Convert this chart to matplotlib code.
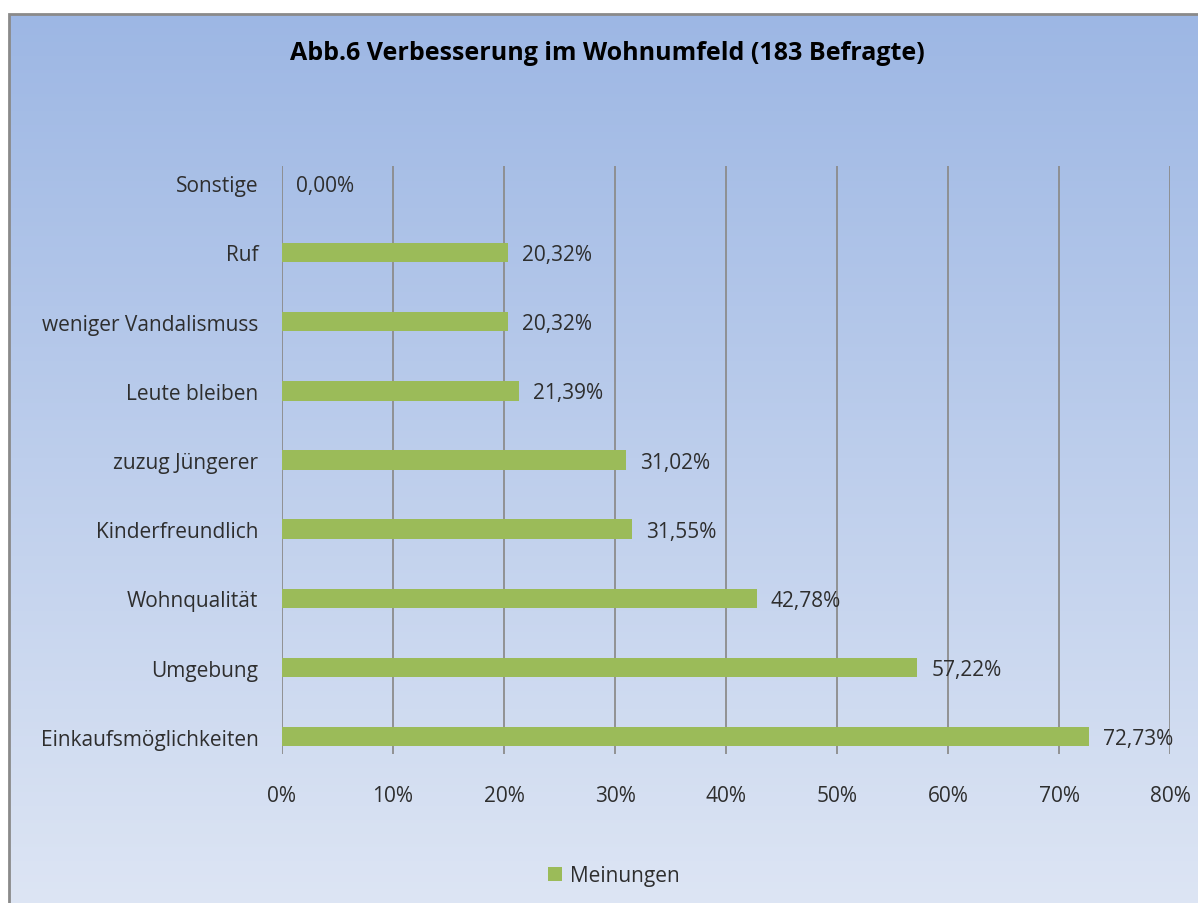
import matplotlib
matplotlib.use("Agg")
import matplotlib.pyplot as plt
import numpy as np
from matplotlib.patches import Rectangle

categories = ["Einkaufsmöglichkeiten", "Umgebung", "Wohnqualität", "Kinderfreundlich",
              "zuzug Jüngerer", "Leute bleiben", "weniger Vandalismuss", "Ruf", "Sonstige"]
values = [72.73, 57.22, 42.78, 31.55, 31.02, 21.39, 20.32, 20.32, 0.00]
xticks = [0, 10, 20, 30, 40, 50, 60, 70, 80]
title = "Abb.6 Verbesserung im Wohnumfeld (183 Befragte)"
series_name = "Meinungen"

plt.rcParams['font.family'] = ['Open Sans', 'DejaVu Sans']
FS = 15
W, H = 1198, 904
fig = plt.figure(figsize=(W / 100, H / 100), dpi=100)
fig.patch.set_facecolor('white')

# gradient background of the chart area
bg = fig.add_axes([9 / W, 0, 1 - 9 / W, (H - 15) / H], zorder=0)
top = np.array([157, 183, 228]) / 255
bot = np.array([221, 229, 244]) / 255
t = np.linspace(0, 1, 256)[:, None]
grad = top[None, :] * (1 - t) + bot[None, :] * t
bg.imshow(grad[:, None, :], aspect='auto', extent=[0, 1, 0, 1])
bg.set_axis_off()
fig.add_artist(Rectangle((9 / W, -0.01), 1.0, (H - 15) / H + 0.01, transform=fig.transFigure,
                         fill=False, edgecolor='#8a8a8a', linewidth=2, zorder=1))

ax = fig.add_axes([282 / W, 1 - 755 / H, 888 / W, 588 / H], zorder=2)
ax.patch.set_alpha(0)
y = np.arange(len(categories))
bars = ax.barh(y, values, height=0.28, color='#9BBB59', label=series_name, zorder=3)
ax.set_xlim(0, 80)
ax.set_ylim(-0.25, len(categories) - 0.75)
ax.set_xticks(xticks)
ax.set_xticklabels([f"{v}%" for v in xticks], fontsize=FS, color='#2e2e2e')
ax.set_yticks(y)
ax.set_yticklabels(categories, fontsize=FS, color='#2e2e2e')
ax.tick_params(axis='both', length=0)
ax.tick_params(axis='x', pad=22)
ax.tick_params(axis='y', pad=17)
ax.grid(axis='x', color='#8c8c8c', linewidth=1.3, zorder=1)
for s in ax.spines.values():
    s.set_visible(False)

for yi, v in zip(y, values):
    ax.annotate(f"{v:.2f}%".replace('.', ','), (v, yi), xytext=(14, -2), textcoords='offset pixels',
                va='center', ha='left', fontsize=FS, color='#2e2e2e', zorder=4)

fig.text(607 / W, 1 - 53 / H, title, ha='center', va='center', fontsize=18,
         fontweight='bold', color='black', zorder=5)

fig.legend(handles=[bars], labels=[series_name], loc='center', bbox_to_anchor=(614 / W, 1 - 877 / H),
           frameon=False, fontsize=FS, handlelength=0.65, handleheight=0.65, handletextpad=0.4,
           labelcolor='#2e2e2e')

fig.savefig('out.png', dpi=100)
